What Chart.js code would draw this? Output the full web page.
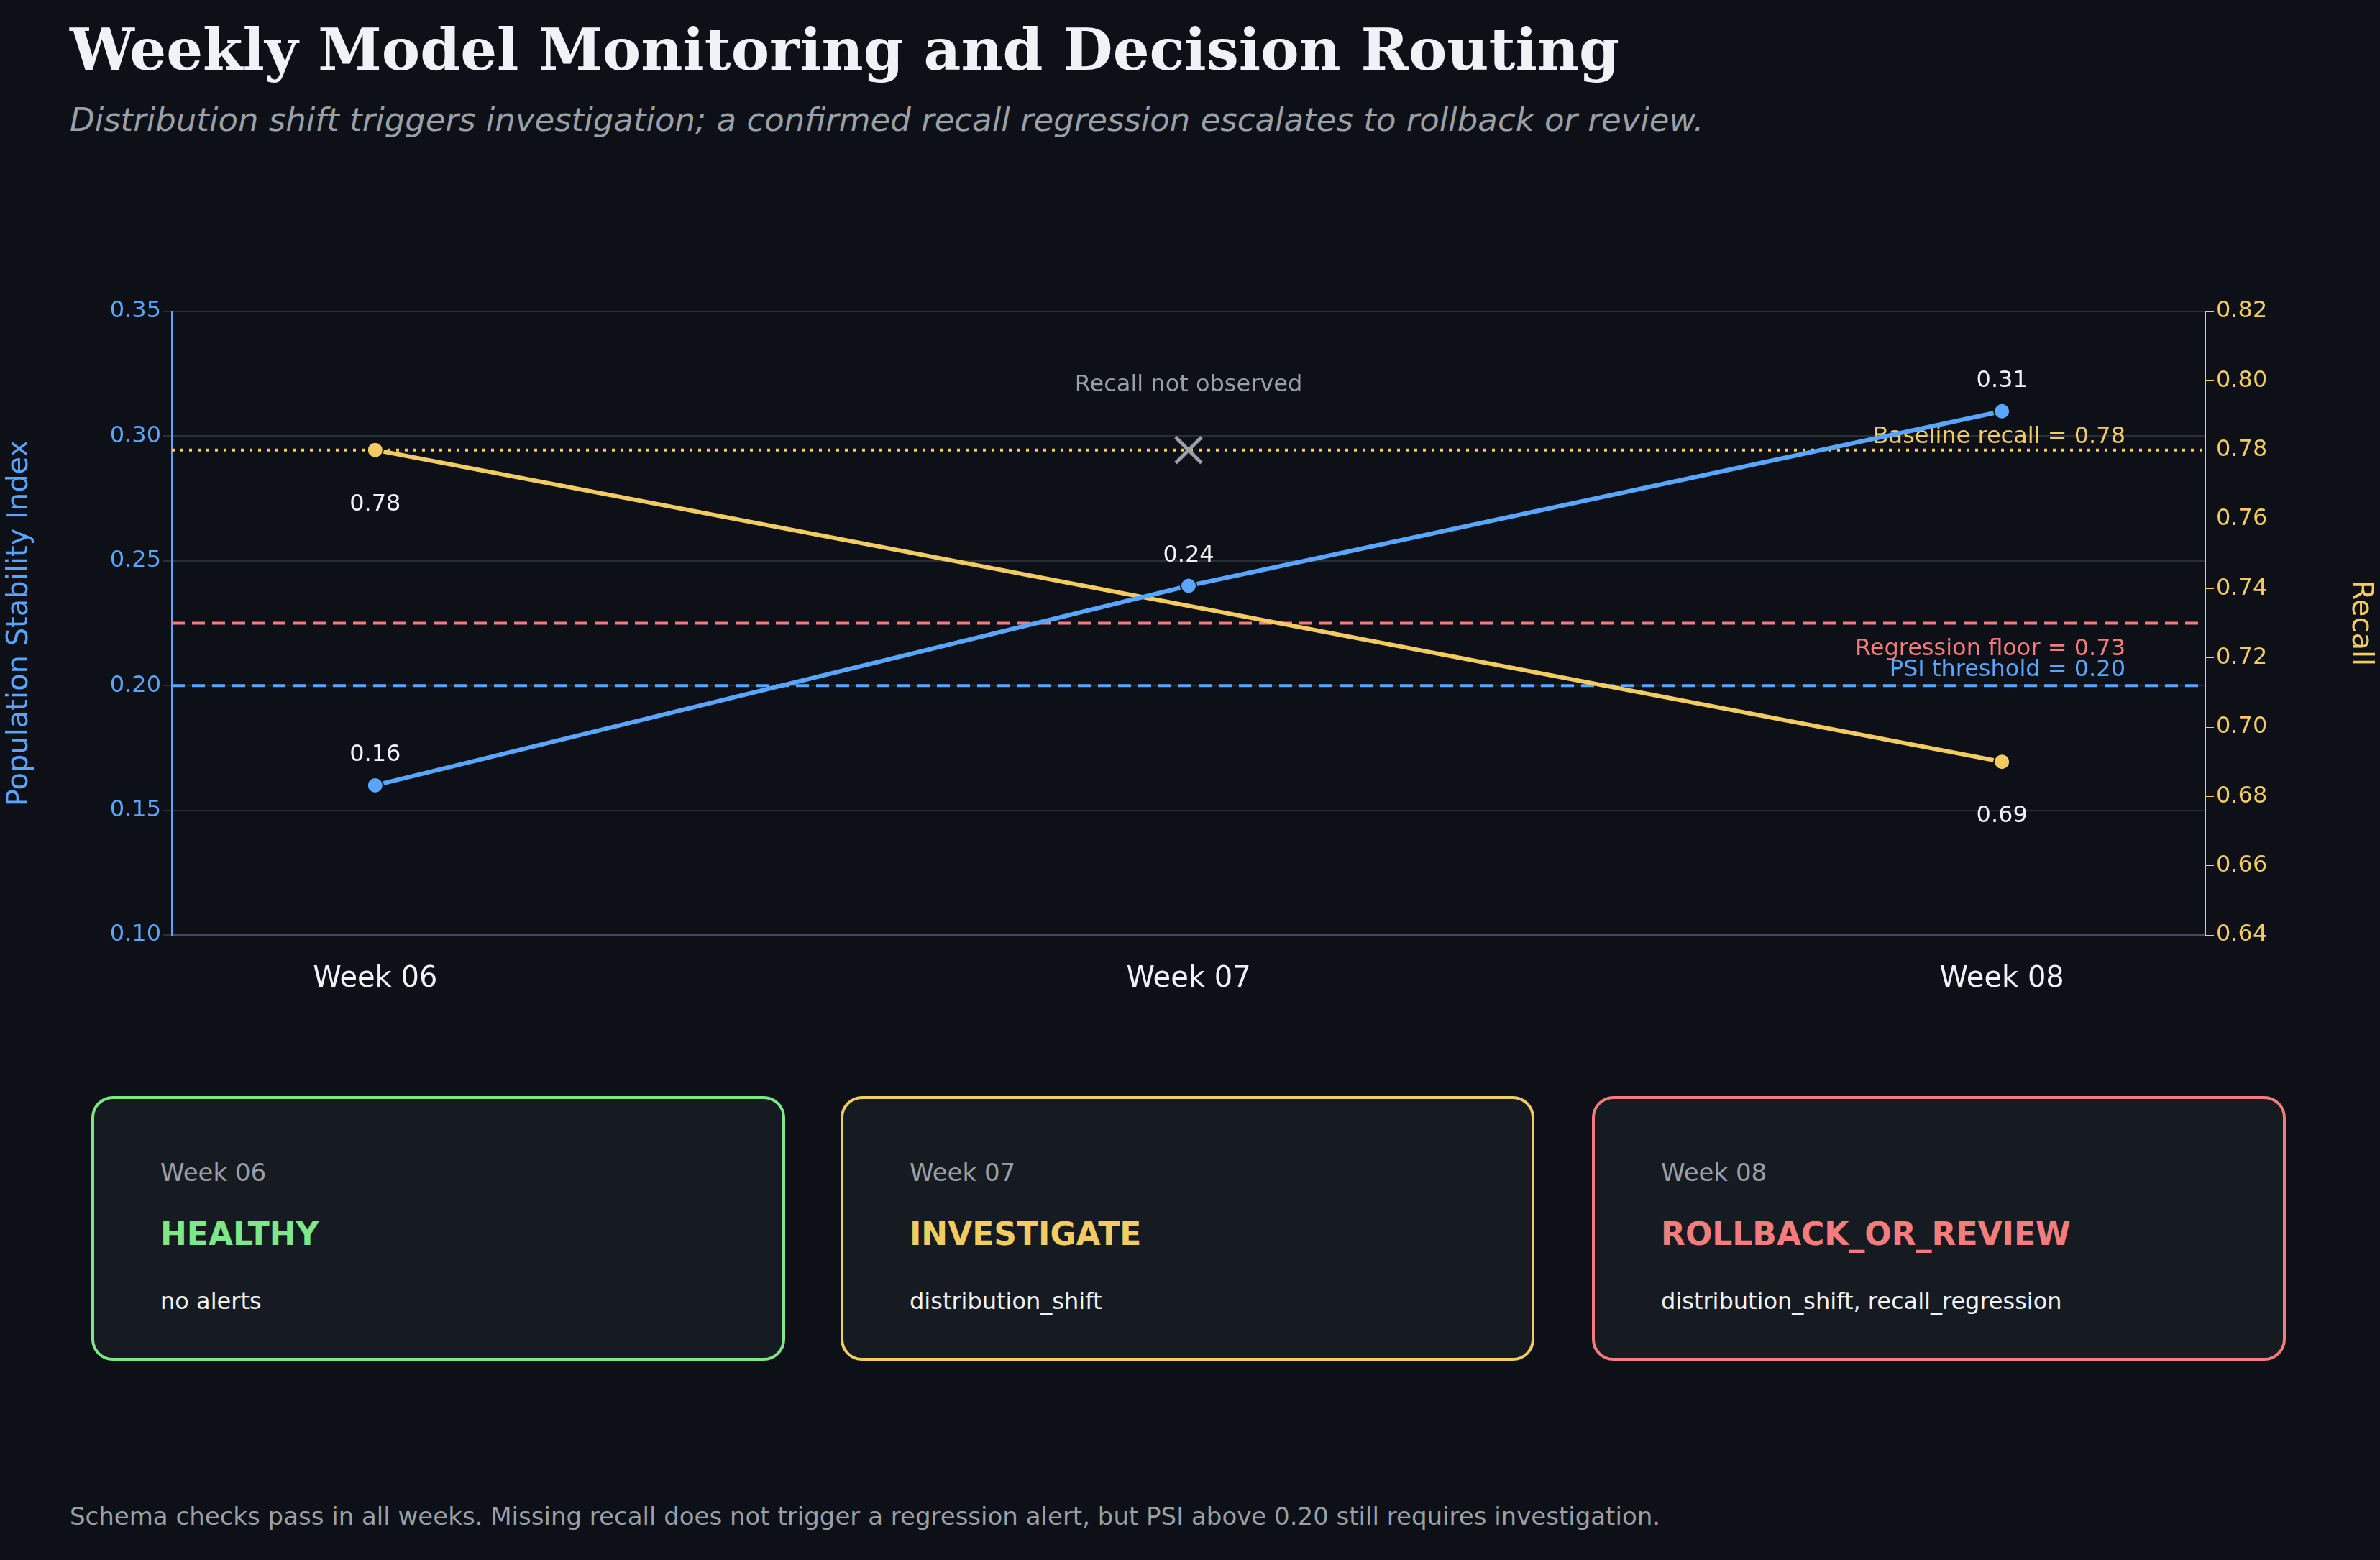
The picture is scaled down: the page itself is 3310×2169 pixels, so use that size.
<!DOCTYPE html>
<html><head><meta charset="utf-8">
<script src="https://cdn.jsdelivr.net/npm/chart.js@4.4.1/dist/chart.umd.min.js"></script>
<style>
html,body{margin:0;padding:0;background:#0d1017;width:3310px;height:2169px;overflow:hidden;font-family:"DejaVu Sans",sans-serif;}
#title{position:absolute;left:97px;top:22px;font-family:"DejaVu Serif",serif;font-weight:bold;font-size:80px;color:#f0f3f6;}
#sub{position:absolute;left:97px;top:140px;font-style:italic;font-size:45px;color:#9aa0a6;}
#wrap{position:absolute;left:0;top:0;width:3310px;height:1420px;}
.card{position:absolute;top:1524px;width:965px;height:368px;border:4px solid;border-radius:30px;background:#161b22;box-sizing:border-box;}
.card .w{position:absolute;left:92px;top:82px;font-size:34px;color:#9aa0a6;}
.card .s{position:absolute;left:92px;top:162px;font-size:44px;font-weight:bold;}
.card .r{position:absolute;left:92px;top:262px;font-size:32px;color:#f0f3f6;}
#foot{position:absolute;left:97px;top:2088px;font-size:34px;color:#9aa0a6;}
</style></head><body>
<div id="title">Weekly Model Monitoring and Decision Routing</div>
<div id="sub">Distribution shift triggers investigation; a confirmed recall regression escalates to rollback or review.</div>
<div id="wrap"><canvas id="c" width="3310" height="1420"></canvas></div>
<div id="cards"></div>
<div id="foot">Schema checks pass in all weeks. Missing recall does not trigger a regression alert, but PSI above 0.20 still requires investigation.</div>
<script>
const weeks=["Week 06","Week 07","Week 08"];
const psi=[0.16,0.24,0.31];
const recall=[0.78,null,0.69];
const psiThreshold=0.20, regressionFloor=0.73, baselineRecall=0.78;
const statuses=["HEALTHY","INVESTIGATE","ROLLBACK_OR_REVIEW"];
const reasons=["no alerts","distribution_shift","distribution_shift, recall_regression"];
const cardColors=["#7ee787","#f2cc60","#f47c7c"];
const cardLefts=[127,1169,2214];

const BLUE="#58a6ff",YEL="#f2cc60",RED="#f47c7c",GRAY="#9aa0a6";
let html="";
weeks.forEach((w,i)=>{html+=`<div class="card" style="left:${cardLefts[i]}px;border-color:${cardColors[i]}"><div class="w">${w}</div><div class="s" style="color:${cardColors[i]}">${statuses[i]}</div><div class="r">${reasons[i]}</div></div>`;});
document.getElementById("cards").innerHTML=html;

const overlay={id:"ov",
 beforeDatasetsDraw(ch){const {ctx,chartArea:a,scales:s}=ch;ctx.save();ctx.lineWidth=4;
  const hl=(y,c,d)=>{ctx.strokeStyle=c;ctx.setLineDash(d);ctx.beginPath();ctx.moveTo(a.left,y);ctx.lineTo(a.right,y);ctx.stroke();};
  hl(s.y.getPixelForValue(psiThreshold),BLUE,[18,10]);
  hl(s.y2.getPixelForValue(regressionFloor),RED,[18,10]);
  hl(s.y2.getPixelForValue(baselineRecall),YEL,[4,8]);
  ctx.setLineDash([]);ctx.font="32px 'DejaVu Sans'";ctx.textAlign="right";ctx.textBaseline="bottom";
  ctx.fillStyle=BLUE;ctx.fillText("PSI threshold = 0.20",2956,s.y.getPixelForValue(psiThreshold)-6);
  ctx.fillStyle=RED;ctx.fillText("Regression floor = 0.73",2956,s.y2.getPixelForValue(regressionFloor)+52);
  ctx.fillStyle=YEL;ctx.fillText("Baseline recall = 0.78",2956,s.y2.getPixelForValue(baselineRecall)-2);
  ctx.restore();},
 afterDatasetsDraw(ch){const {ctx,scales:s}=ch;ctx.save();ctx.font="32px 'DejaVu Sans'";ctx.textAlign="center";ctx.fillStyle="#f0f3f6";
  psi.forEach((v,i)=>{ctx.textBaseline="bottom";ctx.fillText(v.toFixed(2),s.x.getPixelForValue(i),s.y.getPixelForValue(v)-26);});
  recall.forEach((v,i)=>{if(v==null)return;ctx.textBaseline="top";ctx.fillText(v.toFixed(2),s.x.getPixelForValue(i),s.y2.getPixelForValue(v)+60);});
  const mx=s.x.getPixelForValue(1),my=s.y2.getPixelForValue(baselineRecall);
  ctx.strokeStyle=GRAY;ctx.lineWidth=5;ctx.beginPath();ctx.moveTo(mx-18,my-18);ctx.lineTo(mx+18,my+18);ctx.moveTo(mx+18,my-18);ctx.lineTo(mx-18,my+18);ctx.stroke();
  ctx.fillStyle=GRAY;ctx.textBaseline="bottom";ctx.fillText("Recall not observed",mx,my-74);
  ctx.restore();}};

new Chart(document.getElementById("c"),{
 type:"line",
 data:{datasets:[
  {label:"PSI",data:psi.map((v,i)=>({x:i,y:v})),yAxisID:"y",borderColor:BLUE,backgroundColor:BLUE,borderWidth:6,pointRadius:11,pointBorderColor:"#0d1017",pointBorderWidth:2},
  {label:"Recall",data:recall.map((v,i)=>({x:i,y:v})),yAxisID:"y2",spanGaps:true,borderColor:YEL,backgroundColor:YEL,borderWidth:6,pointRadius:11,pointBorderColor:"#0d1017",pointBorderWidth:2}]},
 plugins:[overlay],
 options:{responsive:false,animation:false,
  layout:{padding:{top:433,left:0,right:0,bottom:0}},
  plugins:{legend:{display:false},tooltip:{enabled:false}},
  scales:{
   x:{type:"linear",min:-0.25,max:2.25,afterBuildTicks(ax){ax.ticks=[0,1,2].map(v=>({value:v}));},
      afterFit(ax){ax.height=120;},
      ticks:{color:"#f0f3f6",font:{size:40,family:"DejaVu Sans"},padding:30,callback:v=>weeks[v]},
      grid:{display:false},border:{color:"#444c56",width:2}},
   y:{position:"left",min:0.10,max:0.35,afterFit(ax){ax.width=239;},
      ticks:{stepSize:0.05,color:BLUE,font:{size:32,family:"DejaVu Sans"},callback:v=>v.toFixed(2)},
      title:{display:true,text:"Population Stability Index",color:BLUE,font:{size:40,family:"DejaVu Sans"}},
      grid:{color:"#2a2f36",lineWidth:2,tickLength:12,borderDash:[3,6]},border:{color:BLUE,width:2,dash:[]}},
   y2:{position:"right",min:0.64,max:0.82,afterFit(ax){ax.width=243;},
      ticks:{stepSize:0.02,color:YEL,font:{size:32,family:"DejaVu Sans"},callback:v=>v.toFixed(2)},
      title:{display:true,text:"Recall",color:YEL,font:{size:40,family:"DejaVu Sans"}},
      grid:{drawOnChartArea:false,color:YEL,tickLength:12},border:{color:YEL,width:2}}}}
});
</script></body></html>
